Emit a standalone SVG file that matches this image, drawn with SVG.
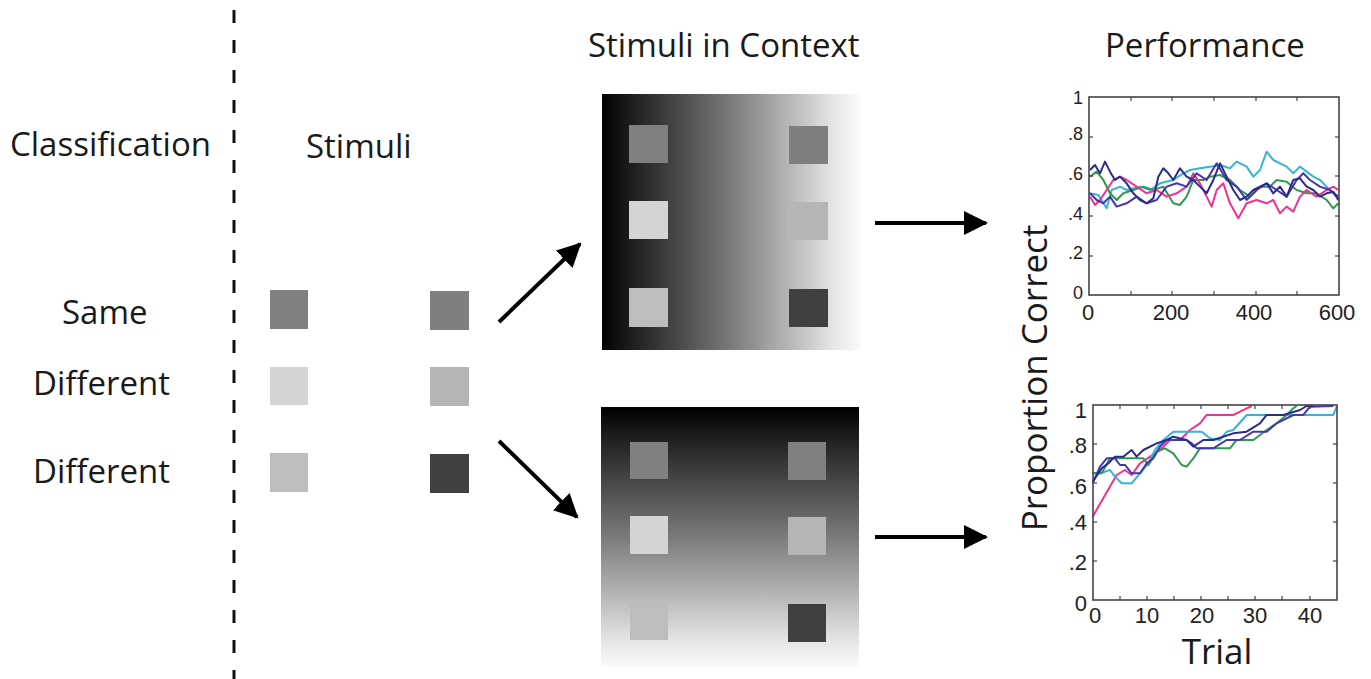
<svg xmlns="http://www.w3.org/2000/svg" width="1371" height="679" viewBox="0 0 1371 679">
<style>
.lbl{font-family:"Open Sans","Liberation Sans",sans-serif;font-size:33px;fill:#1a1a1a}
.tick{font-family:"Liberation Sans",Arial,sans-serif;font-size:18px;fill:#222}
.xt{font-family:"Liberation Sans",Arial,sans-serif;font-size:22px;fill:#222}
.ax{font-family:"Open Sans","Liberation Sans",sans-serif;font-size:35px;fill:#1a1a1a}
.box{fill:none;stroke:#444;stroke-width:1.6}
.tk{stroke:#444;stroke-width:1.2}
.d{fill:none;stroke-width:6;stroke-linejoin:round}
.arr{stroke:#000;stroke-width:4;fill:none}
</style>
<defs>
<marker id="ah" markerUnits="userSpaceOnUse" markerWidth="26" markerHeight="26" refX="22" refY="12" orient="auto" viewBox="0 0 26 24">
<path d="M0,0 L24,12 L0,24 Z" fill="#000"/>
</marker>
<linearGradient id="gh" x1="0" y1="0" x2="1" y2="0">
<stop offset="0" stop-color="#000"/>
<stop offset="0.08" stop-color="#151515"/>
<stop offset="0.5" stop-color="#7a7a7a"/>
<stop offset="0.9" stop-color="#e6e6e6"/>
<stop offset="1" stop-color="#fafafa"/>
</linearGradient>
<linearGradient id="gv" x1="0" y1="0" x2="0" y2="1">
<stop offset="0" stop-color="#000"/>
<stop offset="0.1" stop-color="#1a1a1a"/>
<stop offset="0.5" stop-color="#7a7a7a"/>
<stop offset="0.88" stop-color="#e0e0e0"/>
<stop offset="1" stop-color="#fbfbfb"/>
</linearGradient>
</defs>
<rect width="1371" height="679" fill="#fff"/>

<g id="divider">
<line x1="234" y1="10" x2="234" y2="679" stroke="#111" stroke-width="3" stroke-dasharray="13,17"/>
</g>

<g id="headers">
<text class="lbl" x="10" y="156">Classification</text>
<text class="lbl" x="306" y="158">Stimuli</text>
<text class="lbl" x="588" y="57">Stimuli in Context</text>
<text class="lbl" x="1105" y="57">Performance</text>
</g>

<g id="classes">
<text class="lbl" x="62" y="324">Same</text>
<text class="lbl" x="33" y="395">Different</text>
<text class="lbl" x="33" y="483">Different</text>
</g>

<g id="stimuli">
<rect x="270" y="290" width="38" height="39" fill="#808080"/>
<rect x="430" y="291" width="39" height="39" fill="#7f7f7f"/>
<rect x="270" y="367" width="38" height="38" fill="#d4d4d4"/>
<rect x="430" y="367" width="39" height="39" fill="#b5b5b5"/>
<rect x="270" y="453" width="38" height="39" fill="#bdbdbd"/>
<rect x="430" y="454" width="39" height="39" fill="#404040"/>
</g>

<g id="context-horizontal">
<rect x="602" y="94" width="258" height="256" fill="url(#gh)"/>
<rect x="629" y="125" width="39" height="38" fill="#808080"/>
<rect x="629" y="201" width="39" height="38" fill="#d4d4d4"/>
<rect x="629" y="288" width="39" height="39" fill="#bdbdbd"/>
<rect x="789" y="126" width="39" height="38" fill="#7f7f7f"/>
<rect x="789" y="202" width="39" height="38" fill="#b5b5b5"/>
<rect x="789" y="289" width="39" height="38" fill="#404040"/>
</g>

<g id="context-vertical">
<rect x="601" y="407" width="258" height="260" fill="url(#gv)"/>
<rect x="630" y="442" width="38" height="37" fill="#808080"/>
<rect x="630" y="516" width="38" height="38" fill="#d4d4d4"/>
<rect x="630" y="602" width="38" height="38" fill="#bdbdbd"/>
<rect x="788" y="442" width="38" height="38" fill="#808080"/>
<rect x="788" y="517" width="38" height="38" fill="#b5b5b5"/>
<rect x="788" y="604" width="38" height="38" fill="#404040"/>
</g>

<g id="connectors">
<line class="arr" x1="499" y1="322" x2="580" y2="244" marker-end="url(#ah)"/>
<line class="arr" x1="499" y1="441" x2="577" y2="517" marker-end="url(#ah)"/>
<line class="arr" x1="875" y1="223" x2="986" y2="223" marker-end="url(#ah)"/>
<line class="arr" x1="875" y1="537" x2="986" y2="537" marker-end="url(#ah)"/>
</g>

<g id="chart-top">
<g transform="translate(1040,80) scale(0.3333)">
<polyline class="d" stroke="#36b4d8" points="150,340 175,345 200,385 215,330 240,320 260,330 300,320 330,330 360,310 400,300 430,280 450,270 480,265 510,260 540,255 570,265 590,245 620,260 640,290 660,270 680,215 700,240 720,250 740,260 760,280 780,260 800,275 820,290 840,300 860,320 880,340 895,355"/>
<polyline class="d" stroke="#2e9a4e" points="150,290 170,275 190,300 210,340 230,360 250,340 280,330 310,320 340,330 370,320 400,370 420,375 440,350 460,300 490,300 510,290 540,285 570,300 600,330 630,350 660,320 690,320 710,300 740,305 770,330 800,340 830,340 860,360 880,385 895,370"/>
<polyline class="d" stroke="#f0338c" points="150,350 165,375 180,360 200,330 220,300 240,290 260,300 290,320 320,340 350,330 380,350 410,340 440,320 460,280 480,310 500,350 515,380 530,330 550,310 570,370 595,415 620,370 650,360 680,370 700,360 720,400 740,380 760,395 780,350 800,330 830,350 860,330 880,320 895,330"/>
<polyline class="d" stroke="#4438b0" points="150,340 170,360 190,370 210,350 230,380 260,370 290,350 320,370 350,360 380,320 410,310 440,320 470,280 500,300 530,250 560,300 590,320 620,360 650,330 680,310 710,330 740,350 770,300 790,280 810,300 840,320 870,330 895,350"/>
<polyline class="d" stroke="#2b2a8e" points="150,270 165,255 180,280 195,245 210,275 225,300 240,290 260,310 280,340 300,360 320,370 340,355 355,290 370,265 385,280 400,300 420,265 440,290 460,300 480,320 500,340 520,300 540,250 560,290 580,330 600,360 620,350 640,330 660,320 680,310 700,340 720,320 740,350 760,300 780,295 800,320 820,330 840,350 860,340 880,335 895,360"/>
</g>
<rect class="box" x="1089" y="97" width="250" height="198"/>
<g class="tk">
<line x1="1089" y1="137" x2="1093" y2="137"/><line x1="1089" y1="176" x2="1093" y2="176"/><line x1="1089" y1="216" x2="1093" y2="216"/><line x1="1089" y1="256" x2="1093" y2="256"/>
<line x1="1339" y1="137" x2="1335" y2="137"/><line x1="1339" y1="176" x2="1335" y2="176"/><line x1="1339" y1="216" x2="1335" y2="216"/><line x1="1339" y1="256" x2="1335" y2="256"/>
<line x1="1131" y1="295" x2="1131" y2="291"/><line x1="1172" y1="295" x2="1172" y2="291"/><line x1="1214" y1="295" x2="1214" y2="291"/><line x1="1256" y1="295" x2="1256" y2="291"/><line x1="1297" y1="295" x2="1297" y2="291"/>
<line x1="1131" y1="97" x2="1131" y2="101"/><line x1="1172" y1="97" x2="1172" y2="101"/><line x1="1214" y1="97" x2="1214" y2="101"/><line x1="1256" y1="97" x2="1256" y2="101"/><line x1="1297" y1="97" x2="1297" y2="101"/>
</g>
<g class="tick" text-anchor="end">
<text x="1083" y="104">1</text>
<text x="1083" y="140">.8</text>
<text x="1083" y="180">.6</text>
<text x="1083" y="220">.4</text>
<text x="1083" y="259">.2</text>
<text x="1083" y="299">0</text>
</g>
<g class="xt" text-anchor="middle">
<text x="1088" y="320">0</text>
<text x="1171" y="320">200</text>
<text x="1254" y="320">400</text>
<text x="1337" y="320">600</text>
</g>
</g>

<g id="chart-bottom">
<g transform="translate(1000,390) scale(0.3333)">
<polyline class="d" stroke="#f0338c" points="278,380 350,255 375,240 395,255 420,220 450,200 480,180 510,150 540,150 570,120 600,100 620,75 700,75 720,65 755,48"/>
<polyline class="d" stroke="#36b4d8" points="278,250 300,250 330,240 345,260 365,280 395,280 420,250 445,220 465,180 490,150 520,125 605,125 630,145 660,150 680,125 700,120 740,75 1000,75 1010,50"/>
<polyline class="d" stroke="#2e9a4e" points="278,250 305,250 330,205 430,205 445,225 470,185 495,175 520,190 545,225 560,230 580,205 600,175 690,175 710,150 760,150 800,120 830,100 860,75 880,55 890,48"/>
<polyline class="d" stroke="#4438b0" points="278,280 300,230 320,205 345,205 360,225 375,225 395,250 420,250 440,220 460,205 480,170 500,150 560,150 575,160 590,175 640,175 680,150 720,150 760,125 800,125 830,100 880,75 910,75 930,50 1000,48"/>
<polyline class="d" stroke="#2b2a8e" points="278,275 305,235 325,220 345,200 370,200 395,180 410,200 430,180 470,160 500,150 520,140 560,150 580,170 610,150 640,150 700,130 740,125 780,100 800,75 850,75 900,60 920,48 940,48"/>
</g>
<rect class="box" x="1093" y="405" width="244" height="195"/>
<g class="tk">
<line x1="1093" y1="444" x2="1097" y2="444"/><line x1="1093" y1="483" x2="1097" y2="483"/><line x1="1093" y1="522" x2="1097" y2="522"/><line x1="1093" y1="561" x2="1097" y2="561"/>
<line x1="1337" y1="444" x2="1333" y2="444"/><line x1="1337" y1="483" x2="1333" y2="483"/><line x1="1337" y1="522" x2="1333" y2="522"/><line x1="1337" y1="561" x2="1333" y2="561"/>
<line x1="1120" y1="600" x2="1120" y2="596"/><line x1="1147" y1="600" x2="1147" y2="596"/><line x1="1174" y1="600" x2="1174" y2="596"/><line x1="1201" y1="600" x2="1201" y2="596"/><line x1="1228" y1="600" x2="1228" y2="596"/><line x1="1255" y1="600" x2="1255" y2="596"/><line x1="1282" y1="600" x2="1282" y2="596"/><line x1="1310" y1="600" x2="1310" y2="596"/>
<line x1="1120" y1="405" x2="1120" y2="409"/><line x1="1147" y1="405" x2="1147" y2="409"/><line x1="1174" y1="405" x2="1174" y2="409"/><line x1="1201" y1="405" x2="1201" y2="409"/><line x1="1228" y1="405" x2="1228" y2="409"/><line x1="1255" y1="405" x2="1255" y2="409"/><line x1="1282" y1="405" x2="1282" y2="409"/><line x1="1310" y1="405" x2="1310" y2="409"/>
</g>
<g class="xt" text-anchor="end">
<text x="1087" y="418">1</text>
<text x="1087" y="453">.8</text>
<text x="1087" y="494">.6</text>
<text x="1087" y="530">.4</text>
<text x="1087" y="570">.2</text>
<text x="1087" y="611">0</text>
</g>
<g class="xt" text-anchor="middle">
<text x="1095" y="623">0</text>
<text x="1147" y="623">10</text>
<text x="1202" y="623">20</text>
<text x="1255" y="623">30</text>
<text x="1310" y="623">40</text>
</g>
<text class="ax" x="1217" y="664" text-anchor="middle">Trial</text>
</g>

<g id="y-axis-label">
<text class="ax" x="0" y="0" text-anchor="middle" transform="translate(1047,378) rotate(-90)">Proportion Correct</text>
</g>
</svg>
